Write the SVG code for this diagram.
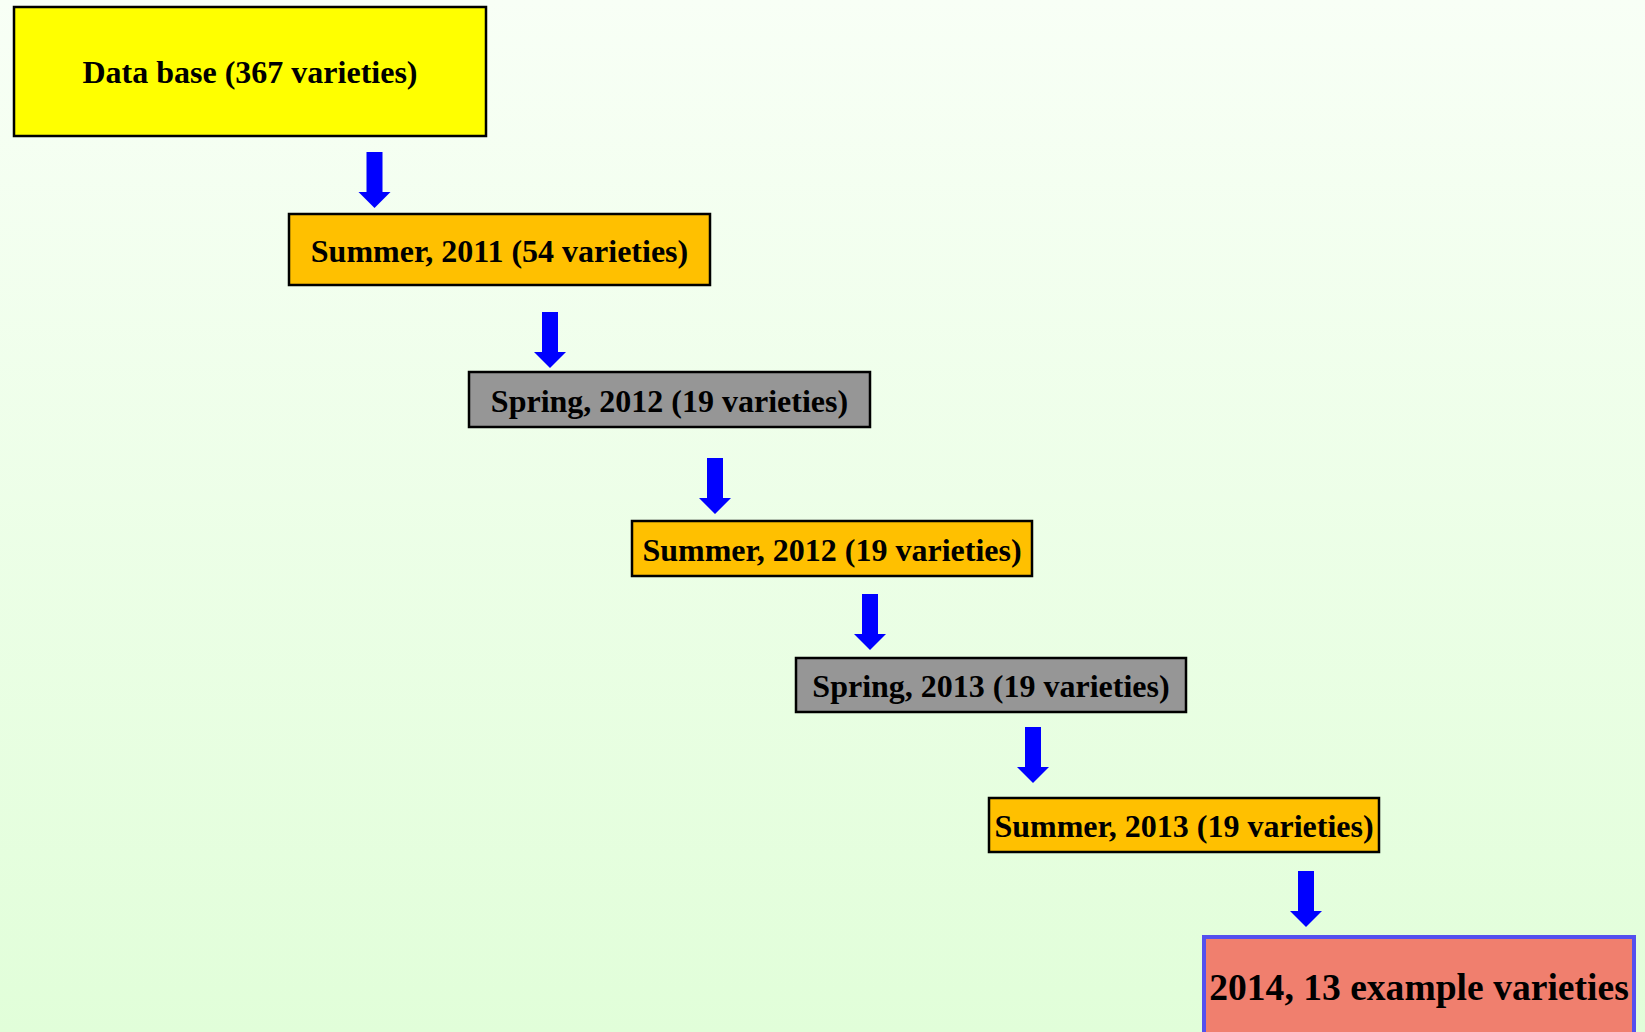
<svg xmlns="http://www.w3.org/2000/svg" xmlns:xlink="http://www.w3.org/1999/xlink" width="1645" height="1032" viewBox="0 0 1645 1032">
  <defs>
    <linearGradient id="bg" x1="0" y1="0" x2="0" y2="1">
      <stop offset="0" stop-color="#f8fff6"/>
      <stop offset="1" stop-color="#e1fed9"/>
    </linearGradient>
    <path id="arr" d="M-8,0 H8 V40 H16 L0,56 L-16,40 H-8 Z" fill="#0000ff"/>
  </defs>
  <style>
    .box { stroke: #000000; stroke-width: 2.5; }
    .yellow { fill: #ffff00; }
    .orange { fill: #ffc000; }
    .gray { fill: #969696; }
    .final { fill: #f07f6e; stroke: #5450ee; stroke-width: 4; }
    .lbl { font-family: "Liberation Serif", "Times New Roman", serif; font-weight: bold; font-size: 32px; fill: #000000; text-anchor: middle; }
    .big { font-size: 37.6px; }
  </style>
  <rect x="0" y="0" width="1645" height="1032" fill="url(#bg)"/>
  <g id="connectors">
    <use xlink:href="#arr" href="#arr" x="374.5" y="152"/>
    <use xlink:href="#arr" href="#arr" x="550" y="312"/>
    <use xlink:href="#arr" href="#arr" x="715" y="458"/>
    <use xlink:href="#arr" href="#arr" x="870" y="594"/>
    <use xlink:href="#arr" href="#arr" x="1033" y="727"/>
    <use xlink:href="#arr" href="#arr" x="1306" y="871"/>
  </g>
  <g id="node-database">
    <rect class="box yellow" x="14" y="7" width="472" height="129"/>
    <text class="lbl" x="250" y="83">Data base (367 varieties)</text>
  </g>
  <g id="node-summer2011">
    <rect class="box orange" x="289" y="214" width="421" height="71"/>
    <text class="lbl" x="499.5" y="262">Summer, 2011 (54 varieties)</text>
  </g>
  <g id="node-spring2012">
    <rect class="box gray" x="469" y="372" width="401" height="55"/>
    <text class="lbl" x="669.5" y="412">Spring, 2012 (19 varieties)</text>
  </g>
  <g id="node-summer2012">
    <rect class="box orange" x="632" y="521" width="400" height="55"/>
    <text class="lbl" x="832" y="561">Summer, 2012 (19 varieties)</text>
  </g>
  <g id="node-spring2013">
    <rect class="box gray" x="796" y="658" width="390" height="54"/>
    <text class="lbl" x="991" y="697">Spring, 2013 (19 varieties)</text>
  </g>
  <g id="node-summer2013">
    <rect class="box orange" x="989" y="798" width="390" height="54"/>
    <text class="lbl" x="1184" y="837">Summer, 2013 (19 varieties)</text>
  </g>
  <g id="node-2014">
    <rect class="final" x="1204" y="937" width="430" height="120"/>
    <text class="lbl big" x="1419" y="1000">2014, 13 example varieties</text>
  </g>
</svg>
